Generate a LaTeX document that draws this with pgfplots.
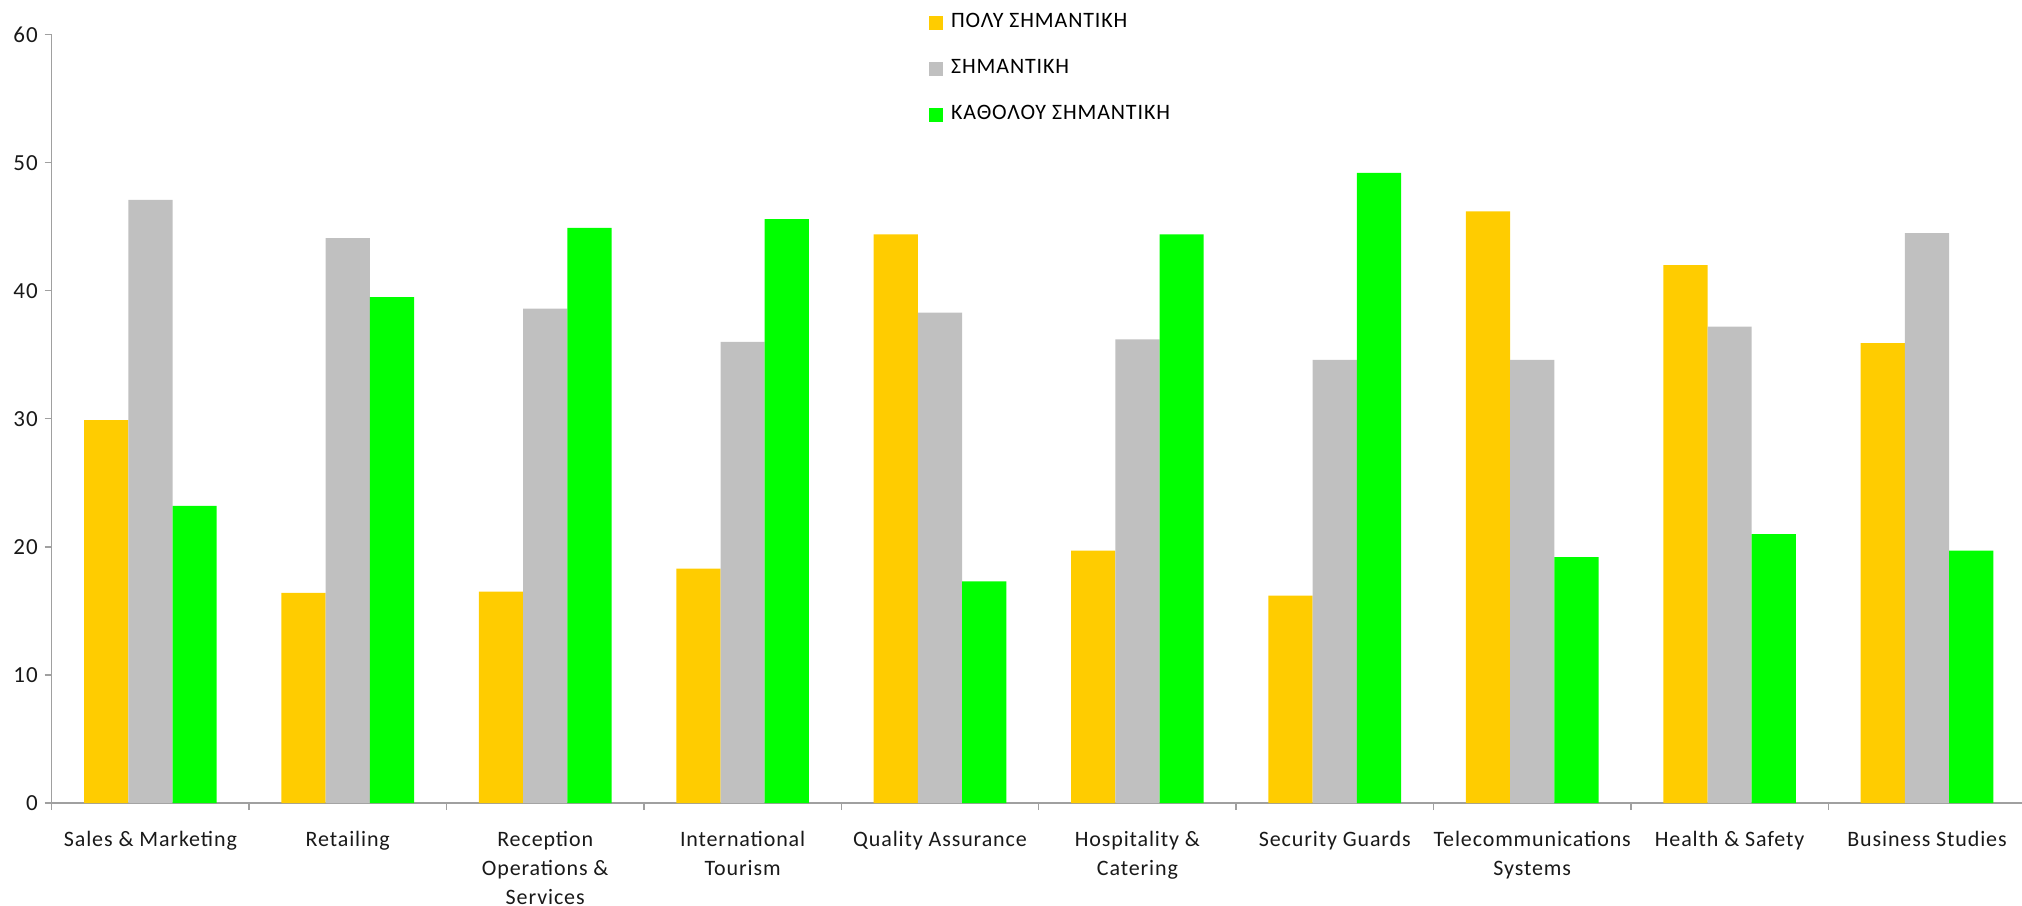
\documentclass[border=0pt]{standalone}
\usepackage{fontspec}
\setmainfont{Carlito}[LetterSpace=4]
\usepackage{pgfplots}
\pgfplotsset{compat=1.18}
\definecolor{cy}{HTML}{FFCC00}
\definecolor{cg}{HTML}{C0C0C0}
\definecolor{cgr}{HTML}{00FF00}
\definecolor{axg}{HTML}{A0A0A0}
\pgfplotsset{sqleg/.style={legend image code/.code={\fill[##1] (0bp,-3.5bp) rectangle (7bp,3.5bp);}}}
\begin{document}
\begin{tikzpicture}
\path[use as bounding box] (-25.85bp,-51.5bp) rectangle (985.15bp,401.5bp);
\begin{axis}[
  scale only axis, width=987bp, height=384.2bp,
  xmin=-0.5, xmax=9.5, ymin=0, ymax=60,
  ytick={0,10,...,60},
  axis lines*=left,
  axis line style={axg, line width=0.7bp},
  tick align=outside,
  major tick length=3.5bp,
  every tick/.style={axg, line width=0.7bp},
  ybar=0pt, bar width=0.224,
  xtick={0,...,9},
  xticklabels={Sales \& Marketing, Retailing, Reception\\Operations \&\\Services, International\\Tourism, Quality Assurance, Hospitality \&\\Catering, Security Guards, Telecommunications\\Systems, Health \& Safety, Business Studies},
  xtick style={draw=none},
  extra x ticks={-0.5,0.5,...,9.5},
  extra x tick labels={},
  extra x tick style={xtick style={draw=axg}},
  xticklabel style={align=center, font=\fontsize{11bp}{14.5bp}\selectfont, text=black!90, anchor=north, yshift=-7bp},
  yticklabel style={font=\fontsize{11.5bp}{13bp}\selectfont, text=black!90},
  /pgf/number format/assume math mode=true,
  legend style={at={(0.4443,1.025)}, anchor=north west, draw=none, fill=none, inner sep=0pt,
    row sep=16bp, column sep=4bp, font=\fontsize{11bp}{12bp}\selectfont,
    nodes={inner sep=0pt, text height=6bp, text depth=1bp}},
  legend cell align=left,
]
\addplot[fill=cy, draw=none, sqleg] coordinates {(0,29.9) (1,16.4) (2,16.5) (3,18.3) (4,44.4) (5,19.7) (6,16.2) (7,46.2) (8,42.0) (9,35.9)};
\addplot[fill=cg, draw=none, sqleg] coordinates {(0,47.1) (1,44.1) (2,38.6) (3,36.0) (4,38.3) (5,36.2) (6,34.6) (7,34.6) (8,37.2) (9,44.5)};
\addplot[fill=cgr, draw=none, sqleg] coordinates {(0,23.2) (1,39.5) (2,44.9) (3,45.6) (4,17.3) (5,44.4) (6,49.2) (7,19.2) (8,21.0) (9,19.7)};
\legend{ΠΟΛΥ ΣΗΜΑΝΤΙΚΗ, ΣΗΜΑΝΤΙΚΗ, ΚΑΘΟΛΟΥ ΣΗΜΑΝΤΙΚΗ}
\end{axis}
\end{tikzpicture}
\end{document}
